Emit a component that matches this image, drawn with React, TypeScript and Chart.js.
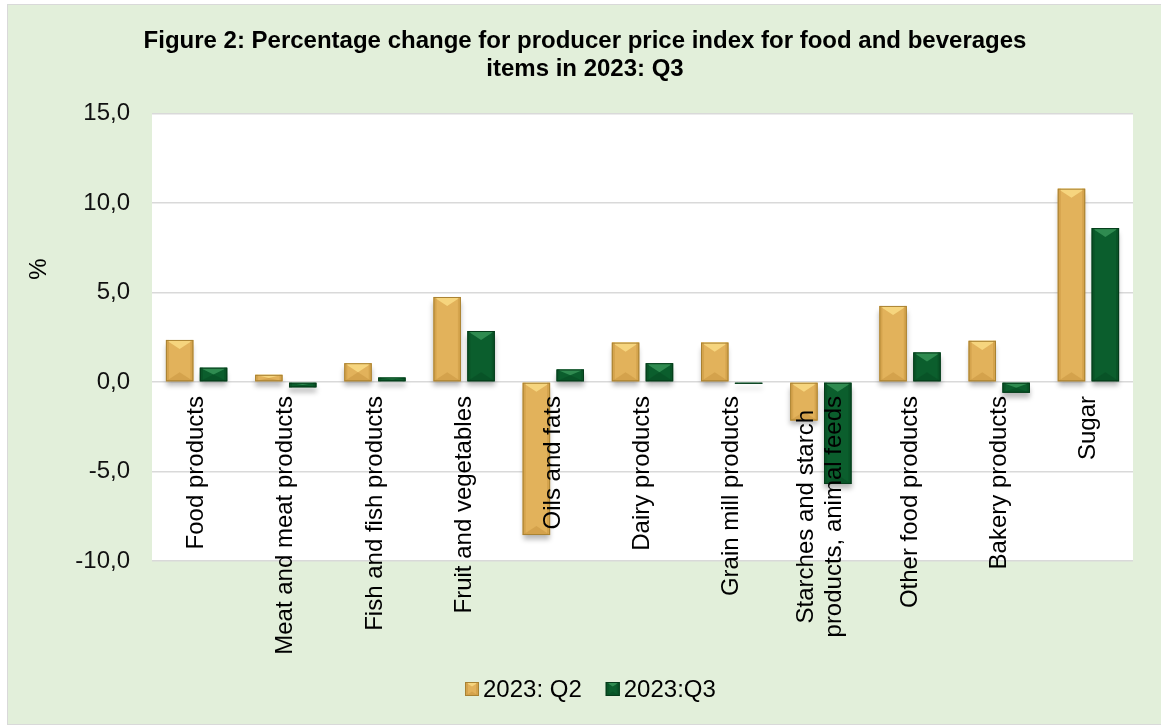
import React, { useEffect, useRef } from "react";
import { Chart, registerables } from "chart.js";

Chart.register(...registerables);

const categories: string[][] = [
  ["Food products"],
  ["Meat and meat products"],
  ["Fish and fish products"],
  ["Fruit and vegetables"],
  ["Oils and fats"],
  ["Dairy products"],
  ["Grain mill products"],
  ["Starches and starch", "products, animal feeds"],
  ["Other food products"],
  ["Bakery products"],
  ["Sugar"],
];
const seriesNames = ["2023: Q2", "2023:Q3"];
const q2Values = [2.35, 0.4, 1.05, 4.75, -8.55, 2.2, 2.2, -2.15, 4.25, 2.3, 10.8];
const q3Values = [0.8, -0.3, 0.25, 2.85, 0.7, 1.05, -0.1, -5.7, 1.65, -0.6, 8.6];
const yTicks = [-10, -5, 0, 5, 10, 15];
const titleLines = [
  "Figure 2: Percentage change for producer price index for food and beverages",
  "items in 2023: Q3",
];
const yTitle = "%";

const FONT = "'Liberation Sans', Arial, Helvetica, sans-serif";
const GOLD = { body: "#e2b25b", light: "#f6d57e", dark: "#c8963f", edge: "#a98232" };
const GREEN = { body: "#0b5e2d", light: "#2f8b50", dark: "#074a22", edge: "#053b1a" };

function bevelRect(ctx: CanvasRenderingContext2D, L: number, T: number, W: number, H: number, c: any) {
  if (H < 1 || W < 1) return;
  const R = L + W;
  const B = T + H;
  const cx = L + W / 2;
  const d = Math.min(W * 0.33, H / 2);
  const s = Math.min(3, W / 4);
  ctx.save();
  ctx.fillStyle = c.light;
  ctx.beginPath();
  ctx.moveTo(L, T);
  ctx.lineTo(R, T);
  ctx.lineTo(cx, T + d);
  ctx.closePath();
  ctx.fill();
  ctx.fillStyle = c.dark;
  ctx.globalAlpha = 0.55;
  ctx.beginPath();
  ctx.moveTo(L, B);
  ctx.lineTo(R, B);
  ctx.lineTo(cx, B - d);
  ctx.closePath();
  ctx.fill();
  ctx.globalAlpha = 1;
  ctx.fillStyle = c.dark;
  ctx.globalAlpha = 0.5;
  ctx.fillRect(L, T, s, H);
  ctx.fillRect(R - s, T, s, H);
  ctx.globalAlpha = 1;
  ctx.strokeStyle = c.edge;
  ctx.lineWidth = 1;
  ctx.strokeRect(L + 0.5, T + 0.5, W - 1, H - 1);
  ctx.restore();
}

const bgPlugin = {
  id: "plotBg",
  beforeDraw(chart: any) {
    const { ctx, chartArea } = chart;
    ctx.save();
    ctx.fillStyle = "#ffffff";
    ctx.fillRect(chartArea.left, chartArea.top, chartArea.right - chartArea.left, chartArea.bottom - chartArea.top);
    ctx.restore();
  },
};

const shadowPlugin = {
  id: "barShadow",
  beforeDatasetDraw(chart: any) {
    const ctx = chart.ctx;
    ctx.save();
    ctx.shadowColor = "rgba(0,0,0,0.28)";
    ctx.shadowBlur = 5;
    ctx.shadowOffsetY = 5;
  },
  afterDatasetDraw(chart: any) {
    chart.ctx.restore();
  },
};

const bevelPlugin = {
  id: "bevel",
  afterDatasetsDraw(chart: any) {
    const ctx = chart.ctx;
    chart.data.datasets.forEach((ds: any, di: number) => {
      const meta = chart.getDatasetMeta(di);
      const c = di === 0 ? GOLD : GREEN;
      meta.data.forEach((el: any) => {
        const p = el.getProps(["x", "y", "base", "width"], true);
        const T = Math.min(p.y, p.base);
        const B = Math.max(p.y, p.base);
        bevelRect(ctx, p.x - p.width / 2, T, p.width, B - T, c);
      });
    });
  },
};

const textPlugin = {
  id: "texts",
  afterDraw(chart: any) {
    const ctx: CanvasRenderingContext2D = chart.ctx;
    const xs = chart.scales.x;
    const ys = chart.scales.y;
    ctx.save();
    // title
    ctx.fillStyle = "#000";
    ctx.font = `bold 24px ${FONT}`;
    ctx.textAlign = "center";
    ctx.textBaseline = "alphabetic";
    ctx.fillText(titleLines[0], 585, 48);
    ctx.fillText(titleLines[1], 585, 76);
    // y title
    ctx.font = `24px ${FONT}`;
    ctx.save();
    ctx.translate(39, 269);
    ctx.rotate(-Math.PI / 2);
    ctx.textAlign = "center";
    ctx.textBaseline = "middle";
    ctx.fillText(yTitle, 0, 0);
    ctx.restore();
    // category labels
    const y0 = ys.getPixelForValue(0) + 14;
    const lh = 28;
    categories.forEach((lines, i) => {
      const x = xs.getPixelForValue(i);
      const widths = lines.map((l) => ctx.measureText(l).width);
      const bw = Math.max(...widths);
      ctx.save();
      ctx.translate(x, y0);
      ctx.rotate(-Math.PI / 2);
      ctx.textAlign = "center";
      ctx.textBaseline = "middle";
      lines.forEach((l, k) => {
        const off = (k - (lines.length - 1) / 2) * lh;
        ctx.fillText(l, -bw / 2, off);
      });
      ctx.restore();
    });
    // legend
    const items = [
      { name: seriesNames[0], c: GOLD },
      { name: seriesNames[1], c: GREEN },
    ];
    let lx = 465;
    const box = 14;
    items.forEach((it) => {
      ctx.fillStyle = it.c.body;
      ctx.fillRect(lx, 682, box, box);
      bevelRect(ctx, lx, 682, box, box, it.c);
      ctx.fillStyle = "#000";
      ctx.textAlign = "left";
      ctx.textBaseline = "alphabetic";
      ctx.fillText(it.name, lx + 18, 696.5);
      lx += 18 + ctx.measureText(it.name).width + 24;
    });
    ctx.restore();
  },
};

export default function App() {
  const ref = useRef<HTMLCanvasElement | null>(null);
  useEffect(() => {
    if (!ref.current) return;
    const chart = new Chart(ref.current, {
      type: "bar",
      data: {
        labels: categories.map((c) => c.join(" ")),
        datasets: [
          {
            label: seriesNames[0],
            data: q2Values,
            backgroundColor: GOLD.body,
            borderWidth: 0,
            categoryPercentage: 0.76,
            barPercentage: 0.81,
          },
          {
            label: seriesNames[1],
            data: q3Values,
            backgroundColor: GREEN.body,
            borderWidth: 0,
            categoryPercentage: 0.76,
            barPercentage: 0.81,
          },
        ],
      },
      options: {
        responsive: false,
        animation: false,
        maintainAspectRatio: false,
        layout: { padding: { left: 0, right: 28, top: 113.5, bottom: 165 } },
        plugins: {
          legend: { display: false },
          title: { display: false },
          tooltip: { enabled: false },
        },
        scales: {
          x: { display: false, offset: true },
          y: {
            min: yTicks[0],
            max: yTicks[yTicks.length - 1],
            afterFit: (s: any) => {
              s.width = 152;
            },
            afterBuildTicks: (s: any) => {
              s.ticks = yTicks.map((v) => ({ value: v }));
            },
            border: { display: false },
            grid: { color: "#d9d9d9", lineWidth: 1.5, drawTicks: false },
            ticks: {
              padding: 22,
              color: "#111",
              font: { family: FONT, size: 24 },
              callback: (v: any) => Number(v).toFixed(1).replace(".", ","),
            },
          },
        },
      },
      plugins: [bgPlugin, shadowPlugin, bevelPlugin, textPlugin],
    });
    return () => chart.destroy();
  }, []);
  return (
    <div style={{ position: "fixed", left: 0, top: 0, width: 1161, height: 726, background: "#fff", overflow: "hidden" }}>
      <div
        style={{
          position: "absolute",
          left: 7,
          top: 4,
          width: 1160,
          height: 721,
          boxSizing: "border-box",
          border: "1px solid #d9d9d9",
          background: "#e2efda",
        }}
      />
      <canvas ref={ref} width={1161} height={726} style={{ position: "absolute", left: 0, top: 0 }} />
    </div>
  );
}
